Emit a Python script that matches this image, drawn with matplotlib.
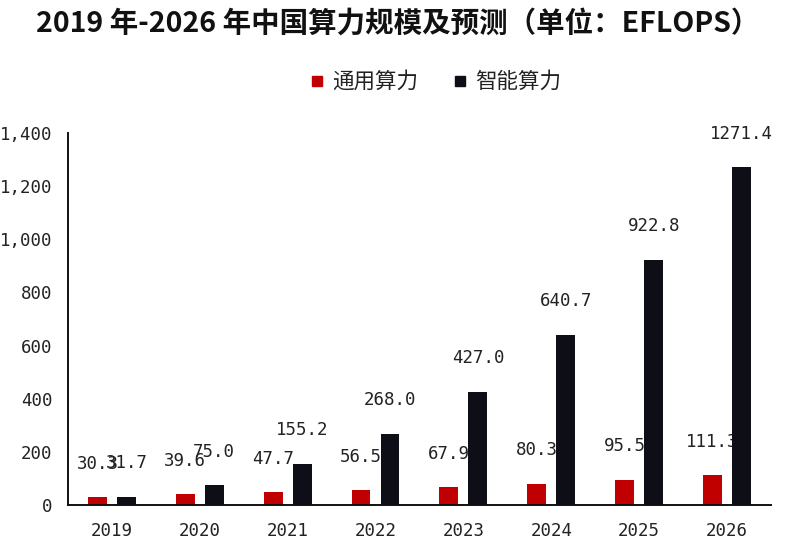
import matplotlib
matplotlib.use("Agg")
import matplotlib.pyplot as plt
from matplotlib.lines import Line2D
import numpy as np

years = ["2019", "2020", "2021", "2022", "2023", "2024", "2025", "2026"]
general = [30.3, 39.6, 47.7, 56.5, 67.9, 80.3, 95.5, 111.3]
intelligent = [31.7, 75.0, 155.2, 268.0, 427.0, 640.7, 922.8, 1271.4]
series_names = ["通用算力", "智能算力"]
yticks = [0, 200, 400, 600, 800, 1000, 1200, 1400]

RED = "#C00000"
BLACK = "#0E0F16"
NUM_FONT = "DejaVu Sans Mono"
CJK = ["Noto Sans CJK SC", "DejaVu Sans"]

fig = plt.figure(figsize=(7.96, 5.51), dpi=100)
ax = fig.add_axes([0.0854, 0.0835, 0.8832, 0.6751])

x = np.arange(len(years))
w = 0.215
off = 0.165

ax.bar(x - off, general, width=w, color=RED, zorder=2)
for xi, v in zip(x, general):
    ax.annotate(f"{v:.1f}", (xi - off, v), xytext=(0, 24), textcoords="offset points",
                ha="center", va="center", fontsize=12.5, family=NUM_FONT,
                color="#222222", zorder=3)
ax.bar(x + off, intelligent, width=w, color=BLACK, zorder=4)
for xi, v in zip(x, intelligent):
    ax.annotate(f"{v:.1f}", (xi + off, v), xytext=(0, 24), textcoords="offset points",
                ha="center", va="center", fontsize=12.5, family=NUM_FONT,
                color="#222222", zorder=5, annotation_clip=False)

ax.set_xlim(-0.5, len(years) - 0.5)
ax.set_ylim(0, 1400)
ax.set_xticks(x)
ax.set_xticklabels(years)
ax.set_yticks(yticks)
ax.set_yticklabels([f"{t:,}" for t in yticks])
for lab in ax.get_xticklabels() + ax.get_yticklabels():
    lab.set_family(NUM_FONT)
    lab.set_fontsize(12.5)
    lab.set_color("#222222")
ax.tick_params(axis="both", length=0)
ax.tick_params(axis="y", pad=11)
ax.tick_params(axis="x", pad=12)

for s in ["top", "right"]:
    ax.spines[s].set_visible(False)
for s in ["left", "bottom"]:
    ax.spines[s].set_linewidth(1.4)
    ax.spines[s].set_color("#111111")

fig.text(0.5, 0.957, "2019 年-2026 年中国算力规模及预测（单位：EFLOPS）",
         ha="center", va="center", fontsize=20.5, fontweight="bold",
         family=CJK, color="#111111")

handles = [Line2D([], [], marker="s", linestyle="none", markersize=7.5, color=c)
           for c in (RED, BLACK)]
leg = fig.legend(handles, series_names, loc="center", bbox_to_anchor=(0.547, 0.851),
                 ncol=2, frameon=False, prop={"family": CJK, "size": 15.5},
                 handlelength=0.7, handletextpad=0.35, columnspacing=1.6)
for t in leg.get_texts():
    t.set_color("#222222")

fig.savefig("out.png", dpi=100, facecolor="white")
